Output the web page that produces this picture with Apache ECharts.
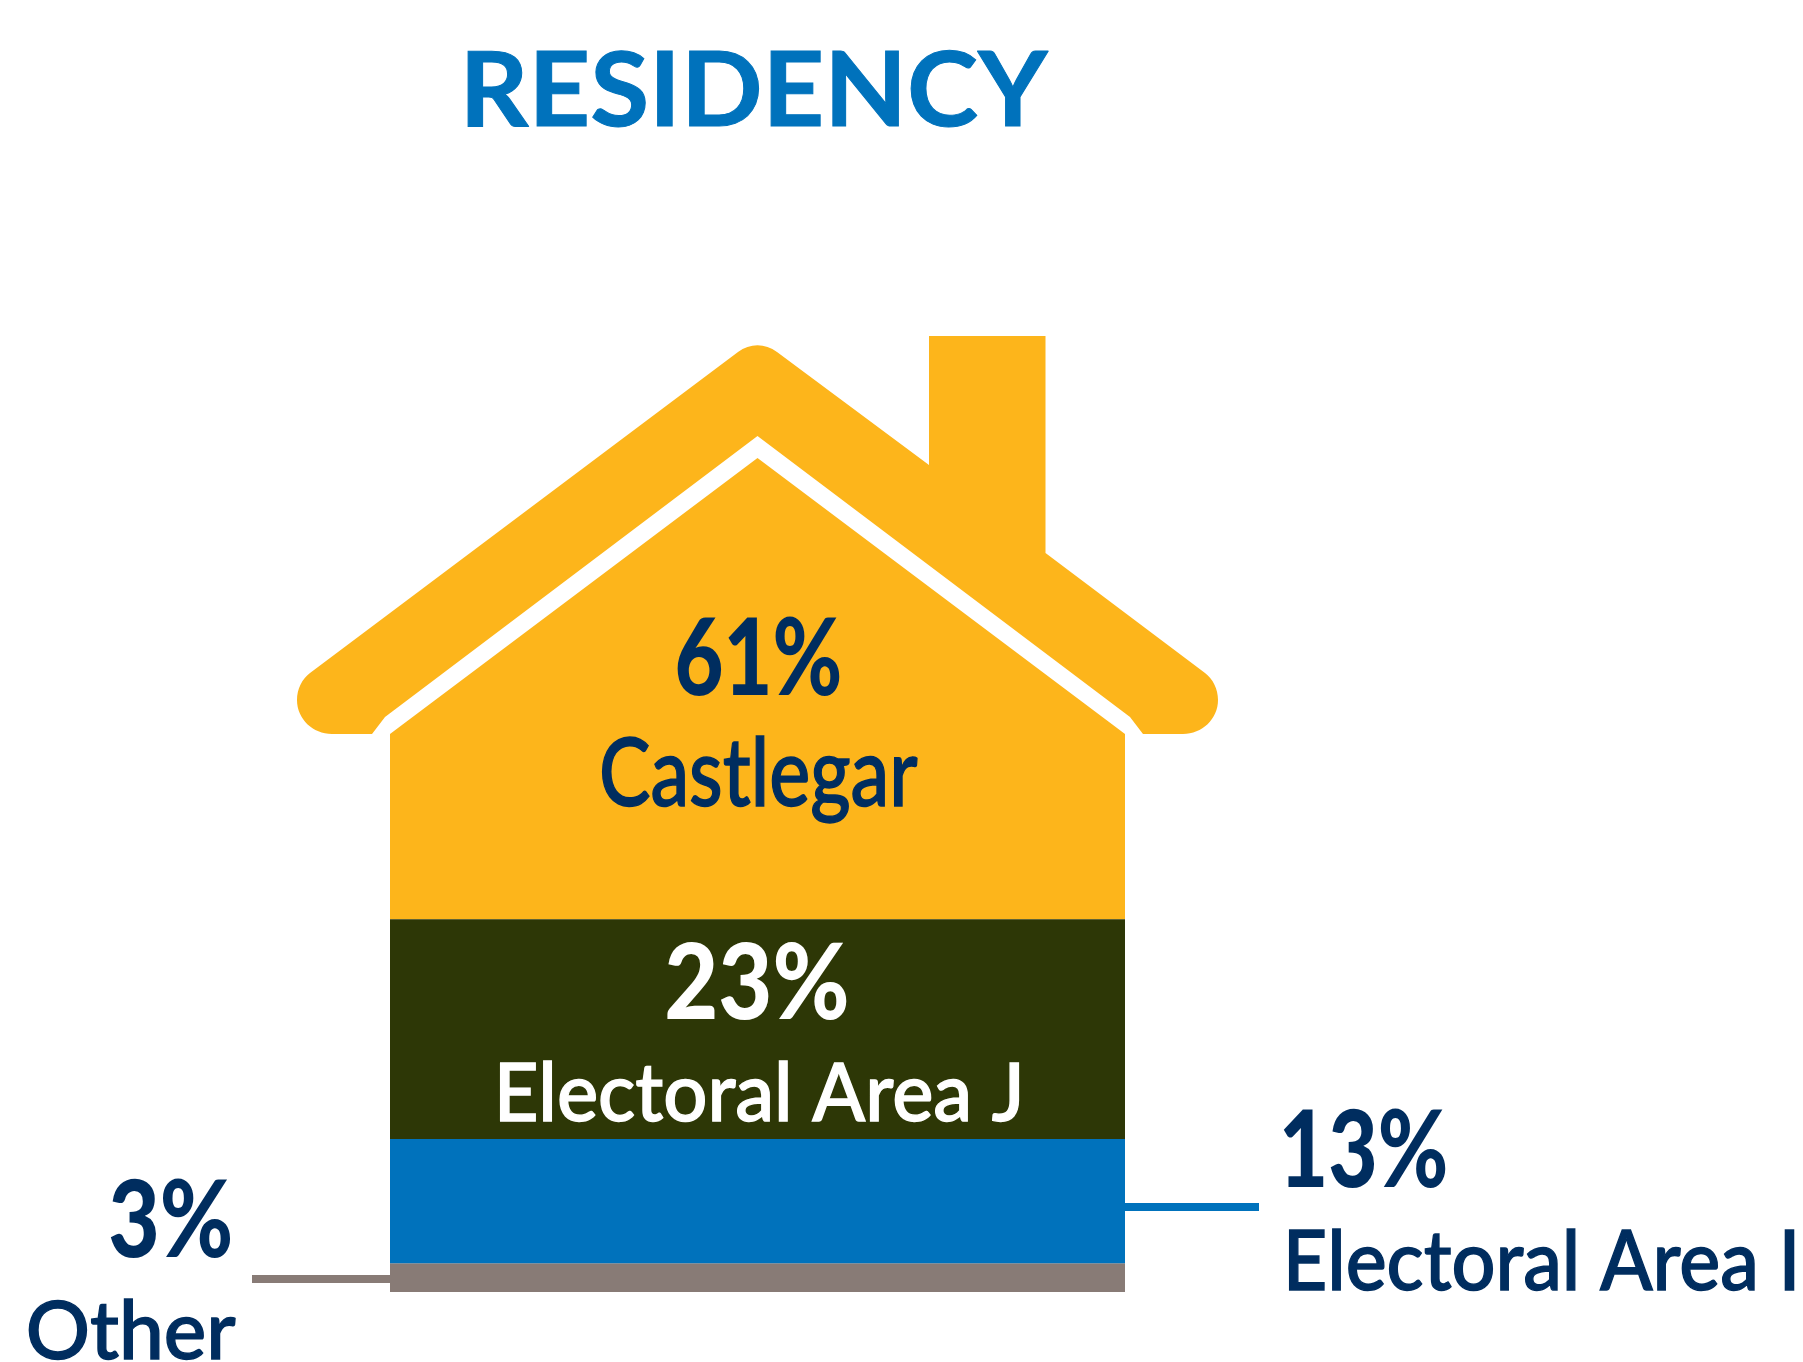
<!DOCTYPE html>
<html><head><meta charset="utf-8">
<style>html,body{margin:0;padding:0;background:#fff}#c{width:1803px;height:1362px}</style>
<script src="https://cdn.jsdelivr.net/npm/echarts@6/dist/echarts.min.js"></script>
</head><body><div id="c"></div>
<script>
const categories = ['Residency'];
const castlegar = [61];
const areaJ = [23];
const areaI = [13];
const other = [3];
const titleText = 'RESIDENCY';
const names = ['Castlegar', 'Electoral Area J', 'Electoral Area I', 'Other'];

const colors = {gold:'#FDB51B', olive:'#2D3706', blue:'#0072BC', grey:'#887B76', navy:'#002D5F', white:'#FFFFFF'};

// House silhouette of the 61% segment, scaled to that segment's box from the axes.
function housePath(L, T, W, H) {
  const sx = W / 735, sy = H / 583;
  const X = v => (L + (v - 390) * sx).toFixed(2), Y = v => (T + (v - 336) * sy).toFixed(2);
  const P = (x, y) => X(x) + ' ' + Y(y);
  return 'M' + P(372,734) + 'L' + P(385,717) + 'L' + P(757.5,436) + 'L' + P(1130,717) + 'L' + P(1143,734) +
    'L' + P(1183,734) + 'C' + P(1202,734) + ' ' + P(1218,719) + ' ' + P(1218,700) + 'C' + P(1218,689) + ' ' + P(1213,679) + ' ' + P(1205,673) +
    'L' + P(1045.5,553) + 'L' + P(1045.5,336) + 'L' + P(929,336) + 'L' + P(929,465) +
    'L' + P(777,352) + 'C' + P(765,343) + ' ' + P(750,343) + ' ' + P(738,352) +
    'L' + P(310,673) + 'C' + P(302,679) + ' ' + P(297,689) + ' ' + P(297,700) + 'C' + P(297,719) + ' ' + P(313,734) + ' ' + P(332,734) + 'Z' +
    'M' + P(390,734) + 'L' + P(757.5,458) + 'L' + P(1125,734) + 'L' + P(1125,919) + 'L' + P(390,919) + 'Z';
}

const measureCtx = document.createElement('canvas').getContext('2d');
function fit(text, weight, family, fill, left, right, top, bottom, strokeW) {
  const base = 100;
  measureCtx.font = weight + ' ' + base + 'px ' + family;
  measureCtx.textBaseline = 'middle';
  measureCtx.textAlign = 'left';
  const m = measureCtx.measureText(text);
  const size = base * (bottom - top) / (m.actualBoundingBoxAscent + m.actualBoundingBoxDescent);
  const k = size / base;
  const inkW = (m.actualBoundingBoxLeft + m.actualBoundingBoxRight) * k;
  const scaleX = (right - left) / inkW;
  const style = {text: text, fill: fill, font: weight + ' ' + size.toFixed(2) + 'px ' + family, align: 'left', verticalAlign: 'middle'};
  if (strokeW) { style.stroke = fill; style.lineWidth = strokeW; }
  return {
    type: 'text', silent: true, z: 10,
    x: left + m.actualBoundingBoxLeft * k * scaleX,
    y: top + m.actualBoundingBoxAscent * k,
    scaleX: scaleX, scaleY: 1,
    style: style
  };
}
const pct = v => v + '%';
const HEAVY = '900', MID = '500', FAM = 'Lato';

const texts = [
  fit(titleText, '700', FAM, colors.blue, 468, 1049, 50, 127, 1),
  fit(pct(castlegar[0]), HEAVY, FAM, colors.navy, 677, 840, 617, 696),
  fit(names[0], MID, FAM, colors.navy, 602, 917, 736, 823, 1.4),
  fit(pct(areaJ[0]), HEAVY, FAM, colors.white, 667, 847, 942, 1020),
  fit(names[1], MID, FAM, colors.white, 500, 1019, 1061, 1122, 1.4),
  fit(pct(areaI[0]), HEAVY, FAM, colors.navy, 1283, 1446, 1109, 1188),
  fit(names[2], MID, FAM, colors.navy, 1289, 1794, 1228, 1291, 1.4),
  fit(pct(other[0]), HEAVY, FAM, colors.navy, 110, 231, 1179, 1258),
  fit(names[3], MID, FAM, colors.navy, 29, 235, 1299, 1360, 1.4),
  {type:'rect', silent:true, shape:{x:252,y:1275,width:138,height:8}, style:{fill:colors.grey}},
  {type:'rect', silent:true, shape:{x:1125,y:1203,width:134,height:8}, style:{fill:colors.blue}}
];

const chart = echarts.init(document.getElementById('c'), null, {renderer:'canvas'});
const base = other[0] + areaI[0] + areaJ[0];
chart.setOption({
  animation:false,
  backgroundColor:'#ffffff',
  grid:{left:390, width:735, top:336, height:956, containLabel:false},
  xAxis:{type:'category', data:categories, show:false},
  yAxis:{type:'value', min:0, max:100, show:false},
  graphic:{elements:texts},
  series:[
    {name:names[3], type:'bar', stack:'r', barWidth:'100%', data:other, itemStyle:{color:colors.grey}},
    {name:names[2], type:'bar', stack:'r', barWidth:'100%', data:areaI, itemStyle:{color:colors.blue}},
    {name:names[1], type:'bar', stack:'r', barWidth:'100%', data:areaJ, itemStyle:{color:colors.olive}},
    {name:names[0], type:'custom', clip:false,
     data:[[0, base, base + castlegar[0]]],
     encode:{x:0, y:[1,2]},
     renderItem:function(params, api){
       const bottom = api.coord([api.value(0), api.value(1)]);
       const top = api.coord([api.value(0), api.value(2)]);
       const w = api.size([1,0])[0];
       const L = bottom[0] - w/2, T = top[1], H = bottom[1] - top[1];
       const sx = w/735;
       return {type:'path',
         shape:{pathData:housePath(L,T,w,H), layout:'cover',
           x:L + (297-390)*sx, y:T, width:(1218-297)*sx, height:H},
         style:{fill:colors.gold}};
     }}
  ]
});
</script></body></html>
